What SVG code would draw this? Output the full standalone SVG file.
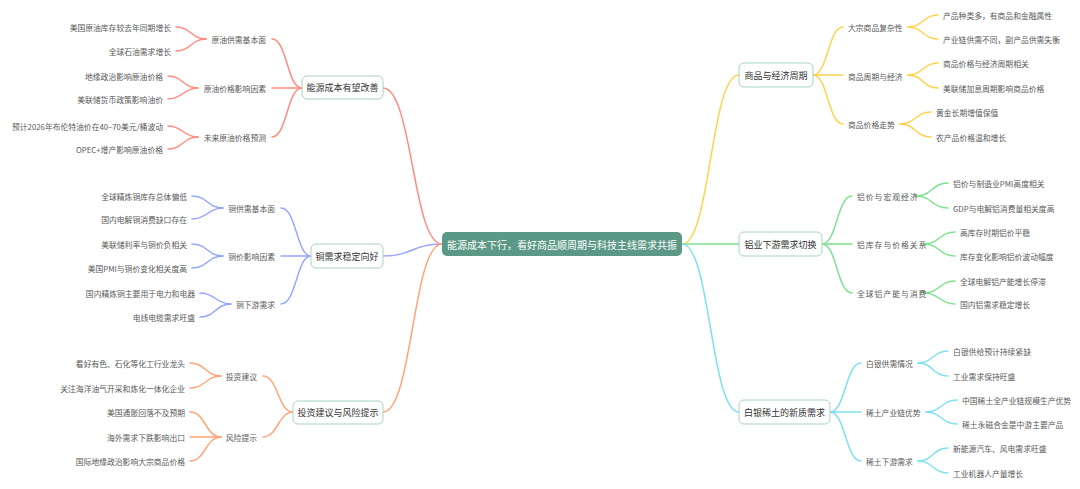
<svg xmlns="http://www.w3.org/2000/svg" width="1080" height="489" viewBox="0 0 1080 489">
<style>
text{font-family:"Noto Sans CJK SC","Noto Sans",sans-serif;dominant-baseline:central}
.leaf{font-size:7.8px;fill:#595959}
.sub{font-size:7.8px;fill:#595959}
.al{letter-spacing:1px}
.main rect{fill:#fff;stroke:#a9d2c5;stroke-width:1}
.main text{font-size:9px;fill:#333;text-anchor:middle}
.l{text-anchor:end}
.conn path{fill:none;stroke-width:1.5;stroke-linecap:round}
.c-en path{stroke:#ff8c7f}
.c-cu path{stroke:#94a5ff}
.c-iv path{stroke:#ffa578}
.c-co path{stroke:#ffd24d}
.c-al path{stroke:#7fe090}
.c-ag path{stroke:#80dff2}
</style>
<rect width="1080" height="489" fill="#fff"/>
<g id="connectors" class="conn">
<g class="c-en">
<path d="M383,88 C412.5,88 412.5,244 442,244"/>
<path d="M302,88 C287,88 287,39 272,39"/>
<path d="M302,88 L272,88"/>
<path d="M302,88 C287,88 287,137 272,137"/>
<path d="M206,39 C191,39 191,27 176,27"/>
<path d="M206,39 C191,39 191,51 176,51"/>
<path d="M198,88 C183,88 183,76 168,76"/>
<path d="M198,88 C183,88 183,99 168,99"/>
<path d="M198,137 C183,137 183,126 168,126"/>
<path d="M198,137 C183,137 183,149 168,149"/>
</g>
<g class="c-cu">
<path d="M383,256 C412.5,256 412.5,244 442,244"/>
<path d="M311,256 C296.5,256 296.5,208 281,208"/>
<path d="M311,256 L281,256"/>
<path d="M311,256 C296.5,256 296.5,304 281,304"/>
<path d="M223,208 C207.5,208 207.5,196 192,196"/>
<path d="M223,208 C207.5,208 207.5,219 192,219"/>
<path d="M223,256 C207.5,256 207.5,244 192,244"/>
<path d="M223,256 C207.5,256 207.5,268 192,268"/>
<path d="M231,304 C215.5,304 215.5,293 200,293"/>
<path d="M231,304 C215.5,304 215.5,317 200,317"/>
</g>
<g class="c-iv">
<path d="M383,412 C412.5,412 412.5,244 442,244"/>
<path d="M293,412 C278,412 278,376 263,376"/>
<path d="M293,412 C278,412 278,437 263,437"/>
<path d="M221,376 C205.5,376 205.5,363 190,363"/>
<path d="M221,376 C205.5,376 205.5,388 190,388"/>
<path d="M221,437 C205.5,437 205.5,412 190,412"/>
<path d="M221,437 L190,437"/>
<path d="M221,437 C205.5,437 205.5,461 190,461"/>
</g>
<g class="c-co">
<path d="M682,244 C710.5,244 710.5,75 739,75"/>
<path d="M813,75 C828,75 828,27 843,27"/>
<path d="M813,75 L843,75"/>
<path d="M813,75 C828,75 828,124 843,124"/>
<path d="M908,27 C923,27 923,15 938,15"/>
<path d="M908,27 C923,27 923,39 938,39"/>
<path d="M908,75 C923,75 923,63 938,63"/>
<path d="M908,75 C923,75 923,88 938,88"/>
<path d="M900,124 C915.5,124 915.5,112 931,112"/>
<path d="M900,124 C915.5,124 915.5,137 931,137"/>
</g>
<g class="c-al">
<path d="M682,244 L739,244"/>
<path d="M822,244 C837,244 837,196 852,196"/>
<path d="M822,244 L852,244"/>
<path d="M822,244 C837,244 837,293 852,293"/>
<path d="M916,196 C932,196 932,183 948,183"/>
<path d="M916,196 C932,196 932,208 948,208"/>
<path d="M924,244 C939.5,244 939.5,232 955,232"/>
<path d="M924,244 C939.5,244 939.5,256 955,256"/>
<path d="M924,293 C939.5,293 939.5,281 955,281"/>
<path d="M924,293 C939.5,293 939.5,304 955,304"/>
</g>
<g class="c-ag">
<path d="M682,244 C710.5,244 710.5,412 739,412"/>
<path d="M830,412 C845.5,412 845.5,363 861,363"/>
<path d="M830,412 L861,412"/>
<path d="M830,412 C845.5,412 845.5,461 861,461"/>
<path d="M918,363 C933,363 933,351 948,351"/>
<path d="M918,363 C933,363 933,376 948,376"/>
<path d="M926,412 C941.5,412 941.5,400 957,400"/>
<path d="M926,412 C941.5,412 941.5,424 957,424"/>
<path d="M918,461 C933,461 933,448 948,448"/>
<path d="M918,461 C933,461 933,473 948,473"/>
</g>
</g>
<g id="center">
<rect x="442" y="232" width="240" height="24" rx="5" fill="#5b9885"/>
<text x="562" y="244" font-size="10" fill="#fff" text-anchor="middle">能源成本下行，看好商品顺周期与科技主线需求共振</text>
</g>
<g id="energy" class="main"><rect x="302" y="76" width="81" height="23" rx="5"/><text x="342.5" y="87.5">能源成本有望改善</text></g>
<g id="copper" class="main"><rect x="311" y="244" width="72" height="24" rx="5"/><text x="347" y="256">铜需求稳定向好</text></g>
<g id="invest" class="main"><rect x="293" y="401" width="90" height="23" rx="5"/><text x="338" y="412.5">投资建议与风险提示</text></g>
<g id="commodity" class="main"><rect x="739" y="63" width="74" height="24" rx="5"/><text x="776" y="75">商品与经济周期</text></g>
<g id="aluminum" class="main"><rect x="739" y="232" width="83" height="24" rx="5"/><text x="780.5" y="244">铝业下游需求切换</text></g>
<g id="silver" class="main"><rect x="739" y="400" width="91" height="24" rx="5"/><text x="784.5" y="412">白银稀土的新质需求</text></g>
<g id="energy-subs">
<text class="sub l" x="266" y="39">原油供需基本面</text>
<text class="sub l" x="266" y="88">原油价格影响因素</text>
<text class="sub l" x="266" y="137">未来原油价格预测</text>
<text class="leaf l" x="171" y="27">美国原油库存较去年同期增长</text>
<text class="leaf l" x="171" y="51">全球石油需求增长</text>
<text class="leaf l" x="163" y="76">地缘政治影响原油价格</text>
<text class="leaf l" x="163" y="99">美联储货币政策影响油价</text>
<text class="leaf l" x="163" y="126">预计2026年布伦特油价在40–70美元/桶波动</text>
<text class="leaf l" x="163" y="149">OPEC+增产影响原油价格</text>
</g>
<g id="copper-subs">
<text class="sub l" x="275" y="208">铜供需基本面</text>
<text class="sub l" x="275" y="256">铜价影响因素</text>
<text class="sub l" x="275" y="304">铜下游需求</text>
<text class="leaf l" x="187" y="196">全球精炼铜库存总体偏低</text>
<text class="leaf l" x="187" y="219">国内电解铜消费缺口存在</text>
<text class="leaf l" x="187" y="244">美联储利率与铜价负相关</text>
<text class="leaf l" x="187" y="268">美国PMI与铜价变化相关度高</text>
<text class="leaf l" x="195" y="293">国内精炼铜主要用于电力和电器</text>
<text class="leaf l" x="195" y="317">电线电缆需求旺盛</text>
</g>
<g id="invest-subs">
<text class="sub l" x="257" y="376">投资建议</text>
<text class="sub l" x="257" y="437">风险提示</text>
<text class="leaf l" x="185" y="363">看好有色、石化等化工行业龙头</text>
<text class="leaf l" x="185" y="388">关注海洋油气开采和炼化一体化企业</text>
<text class="leaf l" x="185" y="412">美国通胀回落不及预期</text>
<text class="leaf l" x="185" y="437">海外需求下跌影响出口</text>
<text class="leaf l" x="185" y="461">国际地缘政治影响大宗商品价格</text>
</g>
<g id="commodity-subs">
<text class="sub" x="848" y="27">大宗商品复杂性</text>
<text class="sub" x="848" y="76">商品周期与经济</text>
<text class="sub" x="848" y="124">商品价格走势</text>
<text class="leaf" x="943" y="15">产品种类多，有商品和金融属性</text>
<text class="leaf" x="943" y="39">产业链供需不同，副产品供需失衡</text>
<text class="leaf" x="943" y="63">商品价格与经济周期相关</text>
<text class="leaf" x="943" y="88">美联储加息周期影响商品价格</text>
<text class="leaf" x="936" y="112">黄金长期增值保值</text>
<text class="leaf" x="936" y="137">农产品价格温和增长</text>
</g>
<g id="aluminum-subs">
<text class="sub al" x="857" y="196">铝价与宏观经济</text>
<text class="sub al" x="857" y="244">铝库存与价格关系</text>
<text class="sub al" x="857" y="293">全球铝产能与消费</text>
<text class="leaf" x="953" y="183">铝价与制造业PMI高度相关</text>
<text class="leaf" x="953" y="208">GDP与电解铝消费量相关度高</text>
<text class="leaf" x="960" y="232">高库存时期铝价平稳</text>
<text class="leaf" x="960" y="256">库存变化影响铝价波动幅度</text>
<text class="leaf" x="960" y="281">全球电解铝产能增长停滞</text>
<text class="leaf" x="960" y="304">国内铝需求稳定增长</text>
</g>
<g id="silver-subs">
<text class="sub" x="866" y="363">白银供需情况</text>
<text class="sub" x="866" y="412">稀土产业链优势</text>
<text class="sub" x="866" y="461">稀土下游需求</text>
<text class="leaf" x="953" y="351">白银供给预计持续紧缺</text>
<text class="leaf" x="953" y="376">工业需求保持旺盛</text>
<text class="leaf" x="962" y="400">中国稀土全产业链规模生产优势</text>
<text class="leaf" x="962" y="424">稀土永磁合金是中游主要产品</text>
<text class="leaf" x="953" y="448">新能源汽车、风电需求旺盛</text>
<text class="leaf" x="953" y="473">工业机器人产量增长</text>
</g>
</svg>
